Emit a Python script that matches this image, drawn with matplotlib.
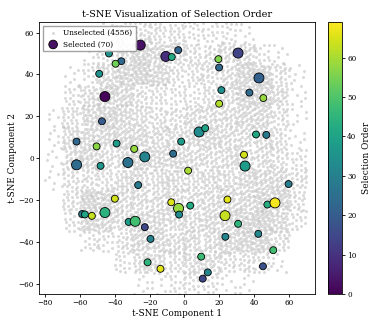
import numpy as np
import matplotlib
matplotlib.use("Agg")
import matplotlib.pyplot as plt

plt.rcParams['font.family'] = 'DejaVu Serif'

# Selected points: (x, y), selection order, big marker or not
sel_x = [-25.4, -10.7, -7.3, -3.6, -43.4, -36.3, -39.6, -49.0, -45.7, -47.4,
         -62.0, -50.5, -39.0, -28.9, -22.8, -62.0, -48.2, -32.5, -26.6, -6.5,
         -1.9, 8.4, 11.9, 19.5, 19.9, 30.8, 42.8, 21.2, 37.3, 45.3,
         19.9, 41.1, 47.0, 34.2, 34.8, 2.1, 59.8, -40.0, -58.8, -57.2,
         -53.2, -45.7, -32.1, -28.3, -22.8, -19.5, -21.2, -13.8, -7.6, -3.4,
         -3.1, 3.3, 24.7, 23.3, 30.8, 47.6, 52.0, 23.5, 42.4, 51.0,
         9.6, 45.1, 13.4, 10.5]
sel_y = [54.0, 48.6, 48.3, 51.6, 50.0, 46.3, 45.1, 40.3, 29.4, 17.6,
         7.9, 5.6, 7.0, 4.4, 0.6, -3.2, -3.7, -2.1, -12.9, 2.1,
         7.9, 12.5, 14.3, 47.3, 43.3, 50.2, 38.3, 32.5, 31.3, 28.7,
         26.0, 11.3, 11.1, 1.6, -3.8, -6.0, -12.4, -19.4, -26.7, -26.9,
         -27.6, -26.0, -30.5, -30.2, -33.0, -38.6, -49.8, -52.9, -21.1, -24.0,
         -27.0, -22.7, -19.8, -27.5, -31.4, -22.2, -21.4, -37.6, -36.2, -44.0,
         -47.1, -51.7, -54.6, -57.6]
sel_order = [3, 9, 42, 22, 35, 23, 54, 35, 1, 20,
             23, 57, 38, 58, 31, 24, 36, 26, 28, 24,
             38, 33, 40, 56, 23, 14, 21, 34, 24, 58,
             61, 41, 28, 64, 38, 60, 29, 64, 29, 40,
             63, 44, 38, 48, 15, 31, 45, 66, 65, 58,
             33, 42, 66, 63, 45, 43, 68, 32, 32, 48,
             47, 17, 31, 15]
big = [1, 1, 0, 0, 0, 0, 0, 0, 1, 0,
       0, 0, 0, 0, 1, 1, 0, 1, 0, 0,
       0, 1, 0, 0, 0, 1, 1, 0, 0, 0,
       0, 0, 0, 0, 1, 0, 0, 0, 0, 0,
       0, 1, 0, 1, 0, 0, 0, 0, 0, 1,
       0, 0, 0, 1, 0, 0, 1, 0, 0, 0,
       0, 0, 0, 0]

n_unselected = 4556
n_selected = 70

# density of the grey cloud, 10x10 cells, x from -80 (left) and y from 65 (top)
cell_x0 = [-80, -70, -60, -50, -40, -30, -20, -10, 0, 10, 20, 30, 40, 50, 60]
cell_y0 = [55, 45, 35, 25, 15, 5, -5, -15, -25, -35, -45, -55, -65]
density = [
    [0, 0, 0, 1, 2, 3, 3, 3, 2, 2, 2, 1, 0, 0, 0],
    [0, 0, 1, 2, 4, 6, 5, 4, 3, 3, 4, 4, 2, 1, 0],
    [0, 1, 2, 4, 6, 7, 5, 3, 3, 3, 4, 6, 6, 3, 1],
    [0, 2, 4, 6, 5, 3, 3, 2, 2, 3, 4, 6, 6, 4, 1],
    [1, 3, 5, 6, 5, 4, 3, 3, 4, 4, 4, 5, 5, 3, 1],
    [1, 4, 5, 5, 5, 5, 4, 4, 5, 5, 4, 4, 4, 3, 1],
    [1, 4, 5, 4, 4, 5, 5, 5, 4, 4, 4, 4, 4, 3, 2],
    [1, 3, 3, 3, 4, 4, 4, 4, 4, 4, 4, 5, 5, 5, 3],
    [0, 3, 7, 6, 4, 4, 4, 4, 4, 4, 5, 5, 6, 6, 3],
    [0, 2, 6, 5, 4, 5, 5, 4, 4, 5, 5, 6, 7, 5, 2],
    [0, 0, 2, 2, 3, 5, 5, 4, 4, 4, 5, 6, 6, 3, 0],
    [0, 0, 0, 0, 2, 4, 4, 3, 4, 4, 3, 3, 2, 1, 0],
    [0, 0, 0, 0, 0, 1, 1, 2, 2, 2, 1, 1, 0, 0, 0],
]

# spread the grey points evenly inside each cell
dens = np.array(density, dtype=float)
counts = np.round(dens * n_unselected / dens.sum()).astype(int)
g = 1.32471795724474602596
a1, a2 = 1 / g, 1 / g ** 2
gx, gy = [], []
k = 0
for r, y0 in enumerate(cell_y0):
    for c, x0 in enumerate(cell_x0):
        n = np.arange(k, k + counts[r, c])
        k += counts[r, c]
        gx.append(x0 + 10 * ((0.3 + a1 * n) % 1))
        gy.append(y0 + 10 * ((0.7 + a2 * n) % 1))
gx = np.concatenate(gx)
gy = np.concatenate(gy)

fig = plt.figure(figsize=(3.8, 3.25), dpi=100)
ax = fig.add_axes([0.103, 0.095, 0.726, 0.837])
cax = fig.add_axes([0.863, 0.095, 0.037, 0.837])

ax.scatter(gx, gy, s=5, c='#c4c4c4', alpha=0.6, linewidths=0,
           label=f'Unselected ({n_unselected})')
sizes = [52 if b else 25 for b in big]
sc = ax.scatter(sel_x, sel_y, c=sel_order, cmap='viridis', vmin=0, vmax=69,
                s=sizes, edgecolors='black', linewidths=0.6,
                label=f'Selected ({n_selected})')

ax.set_xlim(-83.5, 75)
ax.set_ylim(-65, 65)
ax.set_title('t-SNE Visualization of Selection Order', fontsize=7, pad=4)
ax.set_xlabel('t-SNE Component 1', fontsize=6.4, labelpad=1)
ax.set_ylabel('t-SNE Component 2', fontsize=6.4, labelpad=1)
ax.tick_params(labelsize=5.2, width=0.6, length=2.2, pad=1.5)
for s in ax.spines.values():
    s.set_linewidth(0.6)
ax.legend(loc='upper left', fontsize=5.3, borderpad=0.4, handletextpad=0.4,
          framealpha=0.9, edgecolor='0.6', fancybox=False)

cb = fig.colorbar(sc, cax=cax)
cb.set_label('Selection Order', fontsize=6.4, labelpad=4)
cb.ax.tick_params(labelsize=5.2, width=0.6, length=2.2, pad=1.5)
cb.outline.set_linewidth(0.6)

fig.savefig('out.png', dpi=100)
